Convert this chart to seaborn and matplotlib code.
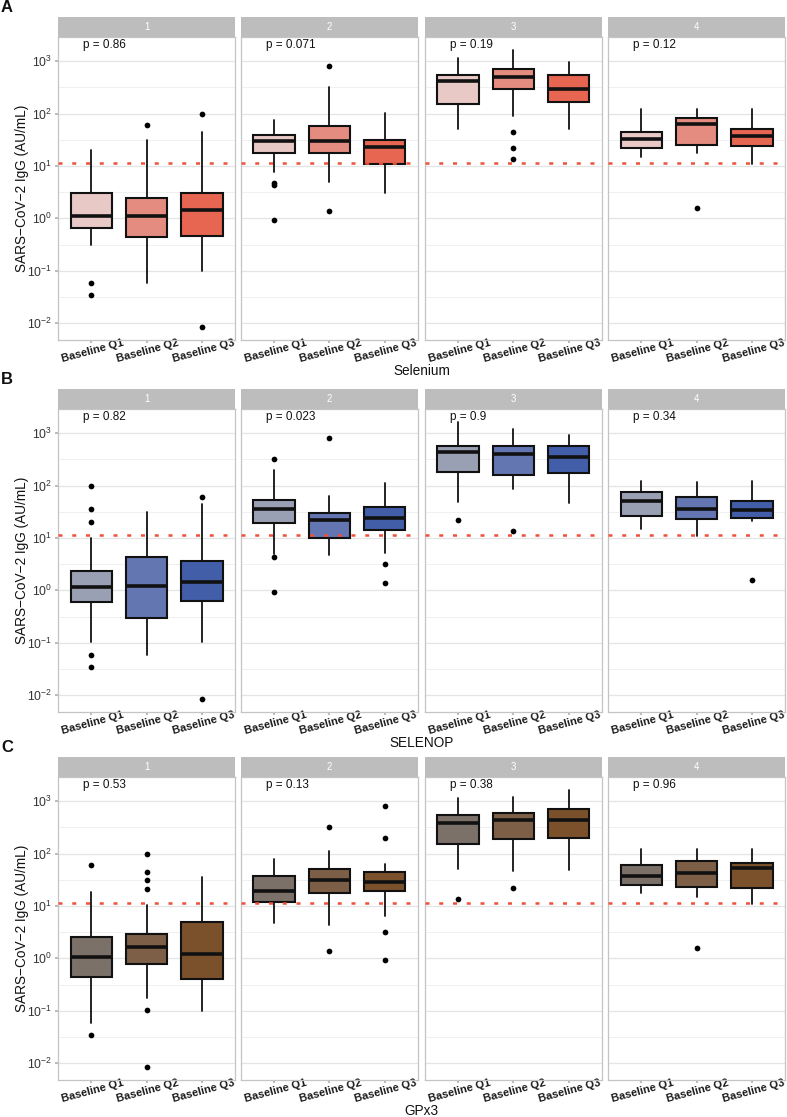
#libraries
import numpy as np
import pandas as pd
import matplotlib
matplotlib.use('Agg')
import matplotlib.pyplot as plt
import seaborn as sns
from matplotlib.patches import Rectangle
from matplotlib import transforms
from matplotlib.ticker import FixedLocator

#values (AU/mL), one row per panel 1-4, one entry per baseline quartile
groups = ['Baseline Q1', 'Baseline Q2', 'Baseline Q3']
panels = ['1', '2', '3', '4']
markers = ['Selenium', 'SELENOP', 'GPx3']
cutoff = 11.5

sel_lo = [[0.31, 0.058, 0.10], [7.7, 5.0, 3.1], [50, 89, 50], [14.7, 17.5, 10.7]]
sel_q1 = [[0.66, 0.44, 0.47], [17.3, 17.8, 11], [152, 294, 164], [22, 25, 24]]
sel_med = [[1.1, 1.1, 1.46], [29.7, 29.7, 22.8], [425, 507, 299], [32, 64.5, 38]]
sel_q3 = [[3.1, 2.47, 3.03], [38.6, 57.3, 31], [543, 698, 543], [45.4, 82.5, 49.6]]
sel_hi = [[20.6, 31, 44.7], [74.5, 321, 104.5], [1146, 1606, 948], [122, 121, 122]]
sel_out = [[[0.059, 0.034], [60], [97, 0.0086]],
           [[4.77, 4.3, 0.93], [807, 1.4], []],
           [[], [45, 22, 13.5], []],
           [[], [1.59], []]]
sel_p = ['0.86', '0.071', '0.19', '0.12']

sep_lo = [[0.102, 0.058, 0.102], [4.9, 4.8, 5.07], [48, 86.7, 45.5], [14.5, 10.7, 21.3]]
sep_q1 = [[0.59, 0.297, 0.63], [19.2, 9.9, 14.3], [185, 160, 170], [25.7, 23.2, 23.6]]
sep_med = [[1.16, 1.19, 1.46], [36, 21.6, 24.3], [439, 403, 348], [51.2, 35.5, 34]]
sep_q3 = [[2.34, 4.38, 3.57], [51.9, 30.2, 39.3], [580, 564, 580], [76, 60, 50.4]]
sep_hi = [[9.9, 31, 44.9], [199, 63.7, 111], [1616, 1189, 914], [121, 118, 120]]
sep_out = [[[97.5, 36, 20.6, 0.059, 0.034], [], [60, 0.0086]],
           [[323, 4.3, 0.93], [800], [3.13, 1.4]],
           [[22.2], [13.3], []],
           [[], [], [1.57]]]
sep_p = ['0.82', '0.023', '0.9', '0.34']

gpx_lo = [[0.058, 0.178, 0.10], [4.72, 4.39, 6.3], [50.7, 45.7, 49.2], [17.7, 14.6, 10.9]]
gpx_q1 = [[0.447, 0.79, 0.40], [11.9, 17.9, 19.3], [152, 189, 195], [25.5, 23, 22]]
gpx_med = [[1.08, 1.65, 1.19], [19, 31.3, 28.6], [377, 430, 437], [37.8, 41.9, 53.7]]
gpx_q3 = [[2.52, 2.96, 5.0], [36.7, 51.4, 45], [544, 585, 698], [61.3, 71, 65]]
gpx_hi = [[18.7, 10.3, 36.2], [78.7, 112, 62], [1148, 1182, 1607], [122, 122, 120]]
gpx_out = [[[60.4, 0.034], [98, 45, 31.3, 21, 0.103, 0.0086], []],
           [[], [321, 1.4], [807, 201, 3.13, 0.94]],
           [[13.6], [22.3], []],
           [[], [1.6], []]]
gpx_p = ['0.53', '0.13', '0.38', '0.96']

sel_colors = ['#E8C9C6', '#E58C80', '#E66652']
sep_colors = ['#9AA0B4', '#6376B2', '#425EA8']
gpx_colors = ['#7C7169', '#7D5F47', '#7B512C']

rows = [
    (sel_lo, sel_q1, sel_med, sel_q3, sel_hi, sel_out, sel_p, sel_colors),
    (sep_lo, sep_q1, sep_med, sep_q3, sep_hi, sep_out, sep_p, sep_colors),
    (gpx_lo, gpx_q1, gpx_med, gpx_q3, gpx_hi, gpx_out, gpx_p, gpx_colors),
]

sns.set_theme(style='white')
plt.rcParams['font.family'] = ['Liberation Sans', 'DejaVu Sans']

W, H = 787, 1117
fig = plt.figure(figsize=(W / 100, H / 100), dpi=100)

col_left = [58.3, 241, 425, 608.3]
panel_w = 176.7
row_top = [37, 409, 777]
panel_h = 303
strip_h = 20
letters = ['A', 'B', 'C']

for r, (lo, q1, med, q3, hi, out, pvals, colors) in enumerate(rows):
    for c in range(4):
        ax = fig.add_axes([col_left[c] / W, 1 - (row_top[r] + panel_h) / H, panel_w / W, panel_h / H])
        ax.set_yscale('log')
        ax.set_ylim(10 ** -2.32, 10 ** 3.46)
        ax.set_xlim(0.4, 3.6)
        ax.set_axisbelow(True)

        #horizontal grid only (major decades + half decades)
        ax.set_yticks([10.0 ** k for k in range(-2, 4)])
        ax.yaxis.set_minor_locator(FixedLocator([10 ** (k + 0.5) for k in range(-3, 4)]))
        ax.grid(which='major', axis='y', color='#E4E4E4', lw=0.9)
        ax.grid(which='minor', axis='y', color='#EEEEEE', lw=0.6)
        ax.grid(False, axis='x')
        ax.tick_params(which='minor', length=0)

        stats = []
        for g in range(3):
            stats.append({'whislo': lo[c][g], 'q1': q1[c][g], 'med': med[c][g],
                          'q3': q3[c][g], 'whishi': hi[c][g], 'fliers': []})
        bp = ax.bxp(stats, positions=[1, 2, 3], widths=0.75, showcaps=False, showfliers=False,
                    patch_artist=True,
                    boxprops=dict(edgecolor='#111111', linewidth=1.5),
                    medianprops=dict(color='#111111', linewidth=2.6, solid_capstyle='butt'),
                    whiskerprops=dict(color='#111111', linewidth=1.3))
        for patch, col in zip(bp['boxes'], colors):
            patch.set_facecolor(col)

        #outlier points
        pos, vals = [], []
        for g in range(3):
            for v in out[c][g]:
                pos.append(g + 1)
                vals.append(v)
        if vals:
            df_out = pd.DataFrame({'pos': pos, 'val': vals})
            sns.scatterplot(data=df_out, x='pos', y='val', ax=ax, color='black', s=17,
                            linewidth=0, legend=False, zorder=5)
        ax.set_xlabel('')
        ax.set_ylabel('')

        ax.axhline(cutoff, color='#F0503C', lw=1.8, dashes=(1.6, 3.9), dash_capstyle='butt', zorder=6)

        ax.text(0.85, 10 ** 3.3, 'p = ' + pvals[c], ha='left', va='center', fontsize=8.5, color='#111111')

        ax.set_xticks([1, 2, 3])
        ax.set_xticklabels(groups, rotation=15, ha='center', va='top', rotation_mode='anchor',
                           fontsize=8.0, fontweight='bold', color='#1a1a1a')
        shift = transforms.ScaledTranslation(-12 / 100, 0, fig.dpi_scale_trans)
        for lab in ax.get_xticklabels():
            lab.set_transform(lab.get_transform() + shift)
        ax.tick_params(axis='x', which='major', length=2.5, color='#B3B3B3', pad=2, bottom=True)
        if c == 0:
            ax.tick_params(axis='y', which='major', length=2.5, color='#B3B3B3', labelsize=8.8,
                           labelcolor='#333333', pad=2, left=True)
        else:
            ax.tick_params(axis='y', which='major', left=False, labelleft=False)

        for s in ax.spines.values():
            s.set_color('#C4C4C4')
            s.set_linewidth(0.9)

        #facet strip
        ax.add_patch(Rectangle((0, 1), 1, strip_h / panel_h, transform=ax.transAxes,
                               clip_on=False, facecolor='#BDBDBD', edgecolor='none'))
        ax.text(0.5, 1 + strip_h / panel_h / 2, panels[c], transform=ax.transAxes,
                ha='center', va='center', fontsize=7, color='white')

    y_mid = 1 - (row_top[r] + panel_h / 2) / H
    fig.text(22 / W, y_mid, 'SARS\u2212CoV\u22122 IgG (AU/mL)', rotation=90, ha='center', va='center',
             fontsize=9.8, color='#111111')
    fig.text(421.5 / W, 1 - (row_top[r] + panel_h + 31) / H, markers[r], ha='center', va='center',
             fontsize=9.8, color='#111111')
    fig.text(7 / W, 1 - (row_top[r] - 29) / H, letters[r], ha='center', va='center',
             fontsize=12, fontweight='bold', color='#111111')

fig.savefig('out.png', dpi=100)
